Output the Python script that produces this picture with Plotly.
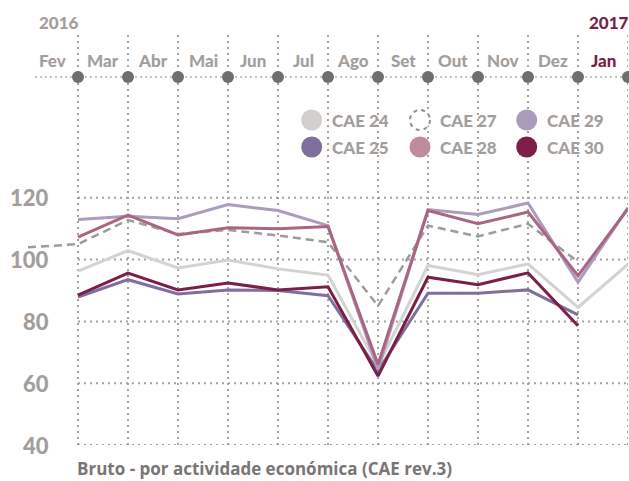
import plotly.graph_objects as go

# ---------------- data ----------------
months = ["Jan", "Fev", "Mar", "Abr", "Mai", "Jun", "Jul", "Ago", "Set", "Out", "Nov", "Dez", "Jan"]
year_labels = ["2016", "2017"]
series_names = ["CAE 24", "CAE 25", "CAE 27", "CAE 28", "CAE 29", "CAE 30"]

cae24 = [None, 96.3, 102.9, 97.3, 99.9, 97.0, 95.0, 65.6, 98.1, 95.1, 98.6, 84.5, 98.5]
cae25 = [None, 87.9, 93.5, 88.9, 90.2, 90.0, 88.3, 64.0, 89.1, 89.1, 90.2, 82.1, None]
cae27 = [104.0, 105.0, 112.8, 108.3, 109.6, 107.8, 105.6, 85.0, 111.0, 107.5, 111.6, 99.3, None]
cae28 = [None, 107.3, 114.4, 108.0, 110.3, 110.0, 110.7, 66.1, 115.9, 111.6, 115.4, 94.8, 116.5]
cae29 = [None, 113.0, 114.0, 113.2, 117.8, 115.9, 111.0, 64.5, 116.2, 114.6, 118.3, 92.7, 116.8]
cae30 = [None, 88.5, 95.6, 90.2, 92.4, 90.2, 91.2, 62.3, 94.3, 91.9, 95.7, 78.6, None]

y_ticks = [40, 60, 80, 100, 120]
title_text = "Bruto - por actividade económica (CAE rev.3)"

# ---------------- layout helpers ----------------
W, H = 629, 481
ML, MR, MT, MB = 28, 1, 30, 36
PW, PH = W - ML - MR, H - MT - MB
PX_X = 50.0          # pixels per month
PX_Y = 3.09          # pixels per index unit
Y0 = 40
Y_TOP = Y0 + PH / PX_Y


def px_x(px):
    return (px - ML) / PX_X


def px_y(py):
    return Y0 + (H - MB - py) / PX_Y


def pp_x(px):
    return (px - ML) / PW


def pp_y(py):
    return (H - MB - py) / PH


FONT = "Lato"
GREY_TXT = "#a39e9b"
GRID = "#a3a3a3"
MAROON = "#7b1e48"

x_idx = list(range(len(months)))

fig = go.Figure()

shapes = []
# horizontal grid (from Fev to Jan)
for t in y_ticks:
    shapes.append(dict(type="line", xref="x", yref="y", x0=1, x1=12, y0=t, y1=t,
                       line=dict(color=GRID, width=2, dash="2px,4px"), layer="below"))
# vertical grid
for i in x_idx[1:]:
    shapes.append(dict(type="line", xref="x", yref="y", x0=i, x1=i, y0=Y0, y1=px_y(32),
                       line=dict(color=GRID, width=2, dash="2px,4px"), layer="below"))
# top axis dotted line
shapes.append(dict(type="line", xref="x", yref="y", x0=px_x(35), x1=12, y0=px_y(77), y1=px_y(77),
                   line=dict(color="#c4c4c4", width=2, dash="2px,3px"), layer="below"))

fig.add_trace(go.Scatter(x=x_idx[1:], y=[px_y(77)] * 12, mode="markers",
                         marker=dict(size=12, color="#6e6e6e"), cliponaxis=False,
                         hoverinfo="skip", showlegend=False))

# ---------------- series ----------------
styles = {
    "CAE 24": dict(color="#d5d2d1", width=3, dash="solid"),
    "CAE 27": dict(color="#9c9c9c", width=2.5, dash="8px,5px"),
    "CAE 25": dict(color="#806f9c", width=3, dash="solid"),
    "CAE 29": dict(color="#aa9cba", width=3, dash="solid"),
    "CAE 28": dict(color="#ab6584", width=3, dash="solid"),
    "CAE 30": dict(color=MAROON, width=3, dash="solid"),
}
values = {"CAE 24": cae24, "CAE 25": cae25, "CAE 27": cae27,
          "CAE 28": cae28, "CAE 29": cae29, "CAE 30": cae30}
for name in ["CAE 24", "CAE 27", "CAE 25", "CAE 29", "CAE 28", "CAE 30"]:
    fig.add_trace(go.Scatter(x=x_idx, y=values[name], mode="lines", name=name,
                             line=dict(color=styles[name]["color"], width=styles[name]["width"],
                                       dash=styles[name]["dash"]),
                             connectgaps=False, showlegend=False))

# ---------------- custom legend ----------------
legend_fill = {"CAE 24": "#d3cfce", "CAE 25": "#806f9c", "CAE 27": None,
               "CAE 28": "#bf8b9f", "CAE 29": "#aa9cba", "CAE 30": MAROON}
legend_pos = {"CAE 24": (311.7, 120), "CAE 27": (420, 120), "CAE 29": (526.7, 120),
              "CAE 25": (311.7, 147), "CAE 28": (420, 147), "CAE 30": (526.7, 147)}
annotations = []
for name in series_names:
    cx, cy = legend_pos[name]
    if legend_fill[name] is None:
        shapes.append(dict(type="circle", xref="x", yref="y", xsizemode="pixel", ysizemode="pixel",
                           xanchor=px_x(cx), yanchor=px_y(cy), x0=-10, x1=10, y0=-10, y1=10,
                           line=dict(color="#8f8f8f", width=2, dash="4px,4px"), fillcolor="white"))
    else:
        fig.add_trace(go.Scatter(x=[px_x(cx)], y=[px_y(cy)], mode="markers",
                                 marker=dict(size=21, color=legend_fill[name], line=dict(width=0)),
                                 cliponaxis=False, hoverinfo="skip", showlegend=False))
    annotations.append(dict(x=pp_x(cx + 18), y=pp_y(cy), xref="paper", yref="paper", text=name,
                            showarrow=False, xanchor="left", yanchor="middle",
                            font=dict(family=FONT, size=17, color=GREY_TXT, weight=900)))

# month labels (between ticks, left of each point)
for i in x_idx[1:]:
    col = MAROON if i == 12 else GREY_TXT
    annotations.append(dict(x=pp_x(ML + (i - 0.5) * PX_X), y=pp_y(60), xref="paper", yref="paper",
                            text=months[i], showarrow=False, xanchor="center", yanchor="middle",
                            font=dict(family=FONT, size=17, color=col, weight=900)))
annotations.append(dict(x=pp_x(37), y=pp_y(22), xref="paper", yref="paper", text=year_labels[0],
                        showarrow=False, xanchor="left", yanchor="middle",
                        font=dict(family=FONT, size=17, color=GREY_TXT, weight=900)))
annotations.append(dict(x=pp_x(587), y=pp_y(22), xref="paper", yref="paper", text=year_labels[1],
                        showarrow=False, xanchor="left", yanchor="middle",
                        font=dict(family=FONT, size=17, color=MAROON, weight=900)))

# y tick labels
for t in y_ticks:
    annotations.append(dict(x=pp_x(51), y=pp_y(H - MB - (t - Y0) * PX_Y), xref="paper", yref="paper",
                            text=str(t), showarrow=False, xanchor="right", yanchor="middle",
                            font=dict(family=FONT, size=22, color=GREY_TXT, weight=900)))

# bottom title
annotations.append(dict(x=pp_x(75), y=pp_y(468), xref="paper", yref="paper", text=title_text,
                        showarrow=False, xanchor="left", yanchor="middle",
                        font=dict(family="Open Sans", size=17, color="#7a7574", weight="bold")))

fig.update_layout(
    width=W, height=H,
    margin=dict(l=ML, r=MR, t=MT, b=MB, pad=0),
    paper_bgcolor="white", plot_bgcolor="white",
    xaxis=dict(range=[0, 12], visible=False, fixedrange=True),
    yaxis=dict(range=[Y0, Y_TOP], visible=False, fixedrange=True),
    shapes=shapes, annotations=annotations, showlegend=False,
)

fig.write_html("out.html", config={"displayModeBar": False},
               post_script="document.body.style.margin='0';document.body.style.overflow='hidden';")
